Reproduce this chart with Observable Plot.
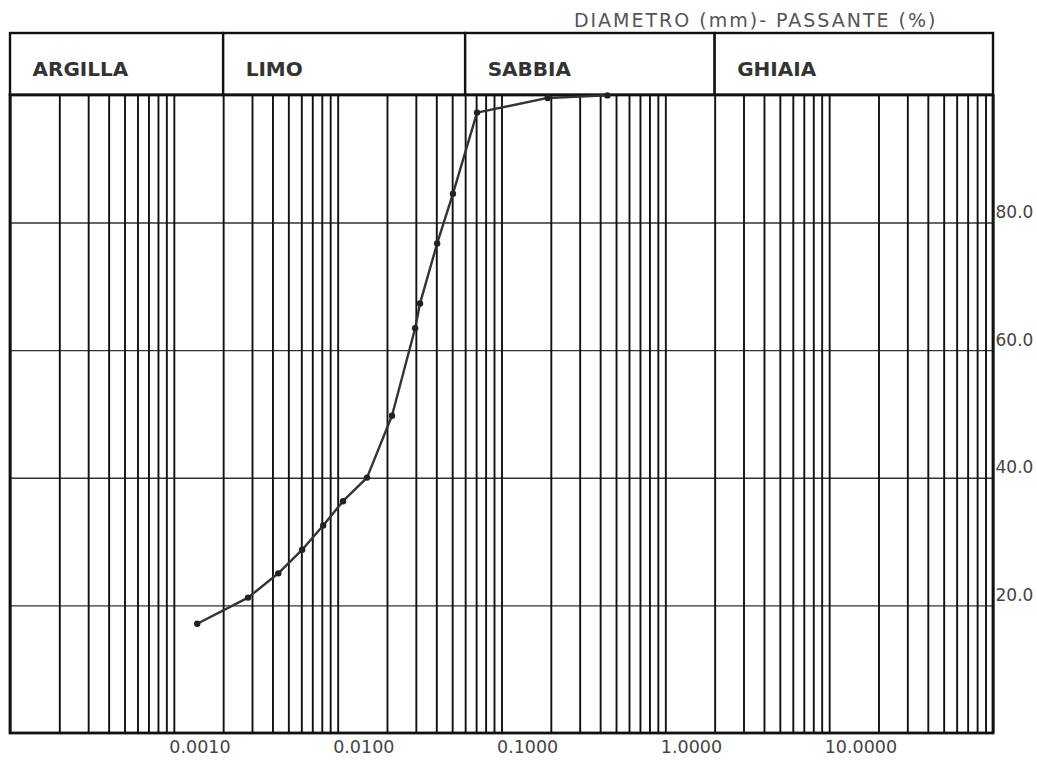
<!DOCTYPE html>
<html><head><meta charset="utf-8">
<script src="https://cdn.jsdelivr.net/npm/d3@7"></script>
<script src="https://cdn.jsdelivr.net/npm/@observablehq/plot@0.6"></script>
<style>
body{margin:0;background:#fff;}
</style></head><body><div id="chart"></div>
<script>
// grain-size curve: diameter (mm) vs passing (%)
const diameters = [0.00138, 0.00282, 0.00431, 0.00603, 0.0081, 0.0107, 0.0150, 0.0213, 0.0295, 0.0316, 0.0402, 0.0502, 0.0704, 0.19, 0.44];
const passing   = [17.2, 21.3, 25.1, 28.8, 32.6, 36.4, 40.1, 49.8, 63.5, 67.4, 76.8, 84.6, 97.3, 99.6, 100];

// soil classes and their diameter limits (mm)
const classNames  = ["ARGILLA", "LIMO", "SABBIA", "GHIAIA"];
const classBounds = [0.0001, 0.002, 0.06, 2, 100];

// log grid: decades x multiples
const decades   = [0.0001, 0.001, 0.01, 0.1, 1, 10];
const multiples = [1, 2, 3, 4, 5, 6, 7, 8, 9];

const xTickValues = [0.001, 0.01, 0.1, 1, 10];
const xTickLabels = ["0.0010", "0.0100", "0.1000", "1.0000", "10.0000"];
const yTickValues = [20, 40, 60, 80];
const yTickLabels = ["20.0", "40.0", "60.0", "80.0"];

const titleText = "DIAMETRO (mm)- PASSANTE (%)";

const points = diameters.map((d, i) => ({d, p: passing[i]}));
const classRows = classNames.map((name, i) => ({name, x1: classBounds[i], x2: classBounds[i + 1]}));
const gridValues = decades.flatMap(dec => multiples.map(m => dec * m)).concat([100]);
const xTicks = xTickValues.map((v, i) => ({v, label: xTickLabels[i]}));
const yTicks = yTickValues.map((v, i) => ({v, label: yTickLabels[i]}));

const headerTop = 109.7;

const chart = Plot.plot({
  width: 1037, height: 763,
  marginLeft: 10, marginRight: 44, marginTop: 33, marginBottom: 30,
  x: {type: "log", domain: [0.0001, 100], axis: null},
  y: {domain: [0, headerTop], axis: null},
  style: {fontFamily: "DejaVu Sans", background: "white", overflow: "visible"},
  marks: [
    Plot.ruleY(yTicks, {y: "v", x1: 0.0001, x2: 100, stroke: "#333", strokeWidth: 1.4}),
    Plot.ruleX(gridValues, {x: d => d, y1: 0, y2: 100, stroke: "#111", strokeWidth: 1.9}),
    Plot.rect(classRows, {x1: "x1", x2: "x2", y1: 100, y2: headerTop, fill: "white", stroke: "#111", strokeWidth: 2.4}),
    Plot.text(classRows, {x: "x1", y: 100, text: "name", dx: 22, dy: -26, textAnchor: "start", fontWeight: "bold", fontSize: 20, fill: "#333"}),
    Plot.rect([0], {x1: 0.0001, x2: 100, y1: 0, y2: 100, fill: "none", stroke: "#111", strokeWidth: 2.8}),
    Plot.line(points, {x: "d", y: "p", stroke: "#333", strokeWidth: 2.4}),
    Plot.dot(points, {x: "d", y: "p", r: 3.2, fill: "#222", stroke: "none"}),
    Plot.text(xTicks, {x: "v", y: 0, text: "label", textAnchor: "start", dx: -5, dy: 14, fontSize: 17.5, fill: "#444"}),
    Plot.text(yTicks, {x: 100, y: "v", text: "label", textAnchor: "start", dx: 2, dy: -10.5, fontSize: 17, fill: "#444"}),
    Plot.text([titleText], {frameAnchor: "top-right", lineAnchor: "middle", text: d => d, dx: -56, dy: -13, textAnchor: "end", fontSize: 19, fill: "#555"})
  ]
});

d3.select(chart).selectAll("text").filter(function() { return this.textContent === titleText; })
  .style("letter-spacing", "2px");

document.getElementById("chart").appendChild(chart);
</script>
</body></html>
